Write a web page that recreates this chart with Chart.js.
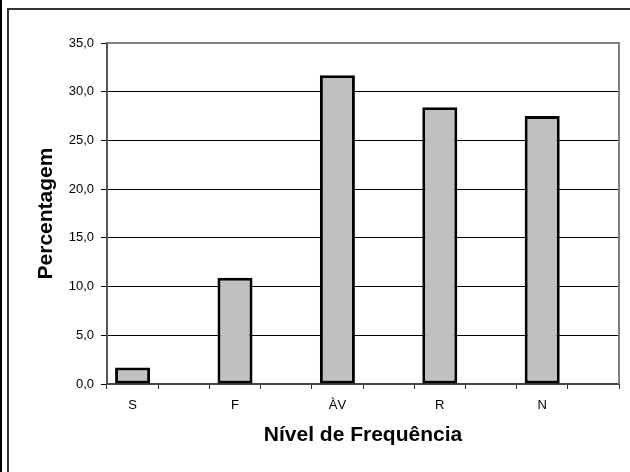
<!DOCTYPE html>
<html>
<head>
<meta charset="utf-8">
<script src="https://cdn.jsdelivr.net/npm/chart.js@4/dist/chart.umd.min.js"></script>
<style>
  html, body { margin: 0; padding: 0; background: #fff; }
  #wrap { position: relative; width: 630px; height: 472px; overflow: hidden; }
  #edge { position: absolute; left: 0; top: 0; width: 2px; height: 472px; background: #000; }
  #frame { position: absolute; left: 7px; top: 8px; width: 640px; height: 480px;
           border-top: 2px solid #333; border-left: 2px solid #333; }
  #chart { position: absolute; left: 0; top: 0; }
</style>
</head>
<body>
<div id="wrap">
  <div id="edge"></div>
  <div id="frame"></div>
  <canvas id="chart" width="630" height="472"></canvas>
</div>
<script>
// Frequency levels and their percentages
const categories = ['S', 'F', 'ÀV', 'R', 'N'];
const percentages = [1.7, 10.9, 31.7, 28.4, 27.5];
const yTicks = [0, 5, 10, 15, 20, 25, 30, 35];

// Each level is followed by an empty slot on the category axis
const labels = [];
const values = [];
categories.forEach((c, i) => {
  labels.push(c, '');
  values.push(percentages[i], null);
});

const FONT = 'Arial, "Liberation Sans", sans-serif';

// Grey frame on the top and right sides of the plot area
const plotFrame = {
  id: 'plotFrame',
  afterDraw(chart) {
    const { ctx, chartArea: a } = chart;
    ctx.save();
    ctx.strokeStyle = '#808080';
    ctx.lineWidth = 2;
    ctx.beginPath();
    ctx.moveTo(a.left, a.top);
    ctx.lineTo(a.right, a.top);
    ctx.lineTo(a.right, a.bottom);
    ctx.stroke();
    ctx.restore();
  }
};

new Chart(document.getElementById('chart'), {
  type: 'bar',
  data: {
    labels: labels,
    datasets: [{
      data: values,
      backgroundColor: '#C0C0C0',
      borderColor: '#000',
      borderWidth: 3,
      borderSkipped: false,
      barPercentage: 0.684,
      categoryPercentage: 1
    }]
  },
  options: {
    responsive: false,
    animation: false,
    devicePixelRatio: 1,
    layout: { padding: { left: 0, top: 43, right: 11, bottom: 0 } },
    plugins: { legend: { display: false }, tooltip: { enabled: false } },
    scales: {
      x: {
        offset: true,
        afterFit(scale) { scale.height = 88; },
        grid: {
          offset: true,
          drawOnChartArea: false,
          drawTicks: true,
          tickLength: 5,
          color: '#333',
          lineWidth: 1
        },
        border: { display: true, color: '#444', width: 2 },
        ticks: {
          autoSkip: false,
          maxRotation: 0,
          padding: 9,
          color: '#000',
          font: { family: FONT, size: 13 }
        },
        title: {
          display: true,
          text: 'Nível de Frequência',
          color: '#000',
          font: { family: FONT, size: 21, weight: 'bold' },
          padding: { top: 0, bottom: 24 }
        }
      },
      y: {
        min: 0,
        max: 35,
        afterFit(scale) { scale.width = 107; },
        afterBuildTicks(scale) { scale.ticks = yTicks.map(v => ({ value: v })); },
        grid: {
          color: '#000',
          lineWidth: 1,
          drawTicks: true,
          tickLength: 6
        },
        border: { display: true, color: '#555', width: 2 },
        ticks: {
          padding: 7,
          color: '#000',
          font: { family: FONT, size: 13 },
          callback: v => v.toFixed(1).replace('.', ',')
        },
        title: {
          display: true,
          text: 'Percentagem',
          color: '#000',
          font: { family: FONT, size: 21, weight: 'bold' },
          padding: { top: 34, bottom: 0 }
        }
      }
    }
  },
  plugins: [plotFrame]
});
</script>
</body>
</html>
